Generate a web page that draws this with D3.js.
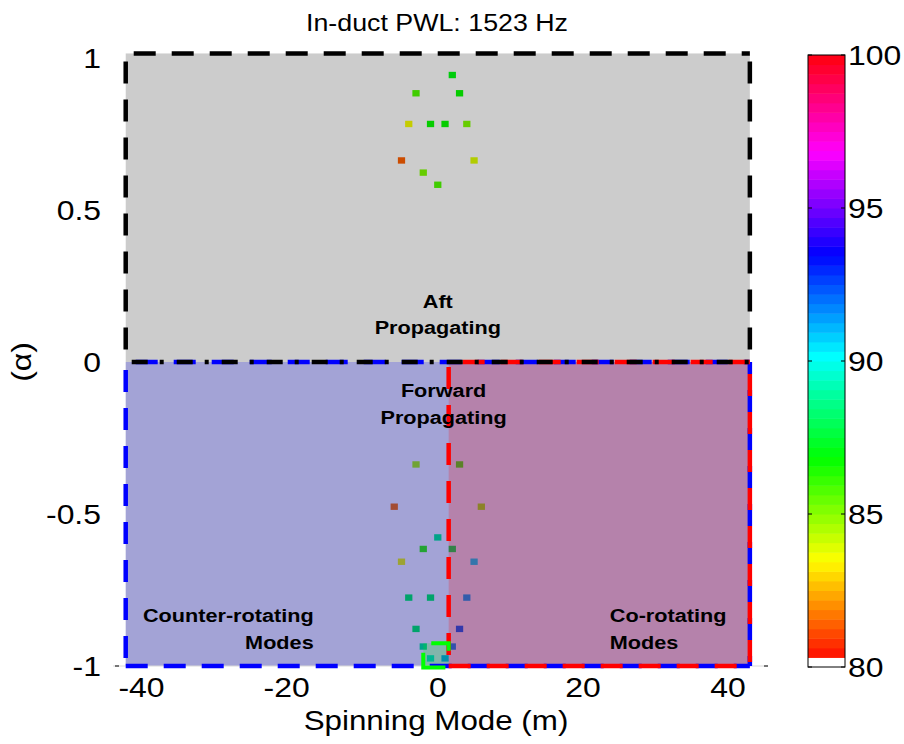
<!DOCTYPE html>
<html><head><meta charset="utf-8">
<script src="https://cdn.jsdelivr.net/npm/d3@7"></script>
<style>body{margin:0;background:#fff} svg{display:block} text{font-family:"Liberation Sans",Arial,Helvetica,sans-serif}</style>
</head><body><svg id="c" width="904" height="744"></svg>
<script>
// ---------- data ----------
const titleText = "In-duct PWL: 1523 Hz";
const xLabel = "Spinning Mode (m)";
const yLabel = "(\u03b1)";
const xTicks = [-40, -20, 0, 20, 40];
const yTicks = [-1, -0.5, 0, 0.5, 1];
const cTicks = [80, 85, 90, 95, 100];
// mode cells: spinning mode m, cut-on ratio alpha, level (dB)
const modeM  = [2, -3, 3, -4, -1, 1, 4, -5, 5, -2, 0,
                -3, 3, -6, 6, 0, -2, 2, -5, 5, -4, -1, 4, -3, 3, -2, 2, -1, 1];
const alphaV = [0.944, 0.884, 0.884, 0.783, 0.783, 0.783, 0.783, 0.663, 0.663, 0.623, 0.583,
                -0.337, -0.337, -0.476, -0.476, -0.577, -0.615, -0.615, -0.657, -0.657,
                -0.775, -0.775, -0.775, -0.878, -0.878, -0.936, -0.936, -0.975, -0.975];
const levelV = [86.9, 85.8, 86.8, 83.6, 86.7, 86.7, 85.0, 81.3, 83.8, 85.3, 85.8,
                84.4, 85.9, 81.6, 84.4, 88.5, 86.0, 87.7, 83.7, 90.5,
                87.9, 87.9, 91.2, 88.0, 92.1, 88.7, 91.5, 89.5, 91.0];
// region annotations
const regionNames = ["Aft|Propagating", "Forward|Propagating", "Counter-rotating|Modes", "Co-rotating|Modes"];

// ---------- layout ----------
const SX = 1.14; // horizontal stretch of the reference font
const svg = d3.select("#c");
const x = d3.scaleLinear().domain([-44.2, 45.5]).range([117, 768]);
const y = d3.scaleLinear().domain([-1, 1]).range([666, 58]);
const cb = d3.scaleLinear().domain([80, 100]).range([667, 55]);
const nCol = 64;
function colorOf(v) {
  let i = Math.floor((v - 80) / 20 * nCol);
  i = Math.max(0, Math.min(nCol - 1, i));
  if (i === 0) return "#ffffff";
  return d3.hsl(i / nCol * 360, 1, 0.5).formatHex();
}
function txt(g, px, py, s, size, anchor, extra) {
  return g.append("text")
    .attr("transform", `translate(${px},${py})${extra || ""} scale(${SX},1)`)
    .attr("text-anchor", anchor).attr("font-size", size).text(s);
}
const cellH = 0.021;

// mode cells
const cells = modeM.map((m, i) => ({m, a: alphaV[i], v: levelV[i]}));
svg.append("g").selectAll("rect").data(cells).join("rect")
  .attr("x", d => x(d.m - 0.5))
  .attr("width", d => x(d.m + 0.5) - x(d.m - 0.5))
  .attr("y", d => y(d.a + cellH / 2))
  .attr("height", d => y(d.a - cellH / 2) - y(d.a + cellH / 2))
  .attr("fill", d => colorOf(d.v));

// translucent region patches
const patches = [
  {x0: -43, x1: 43, y0: -1, y1: 1.015, c: "#000000"},
  {x0: -43, x1: 43, y0: -1, y1: 0, c: "#0000ff"},
  {x0: 1.5, x1: 43, y0: -1, y1: 0, c: "#ff0000"},
  {x0: -2, x1: 1.5, y0: -1.005, y1: -0.925, c: "#00ff00"}
];
svg.append("g").selectAll("rect").data(patches).join("rect")
  .attr("x", d => x(d.x0)).attr("width", d => x(d.x1) - x(d.x0))
  .attr("y", d => y(d.y1)).attr("height", d => y(d.y0) - y(d.y1))
  .attr("fill", d => d.c).attr("fill-opacity", 0.2);

// bottom axis line and end ticks
svg.append("line").attr("x1", x.range()[0] - 4).attr("x2", x.range()[1])
  .attr("y1", y(-1)).attr("y2", y(-1)).attr("stroke", "#d8d8d8").attr("stroke-width", 1);
svg.append("g").selectAll("line").data(x.range()).join("line")
  .attr("x1", (d, i) => i ? d - 4 : d - 2).attr("x2", (d, i) => i ? d : d + 2)
  .attr("y1", y(-1)).attr("y2", y(-1)).attr("stroke", "#000").attr("stroke-width", 1);

// dashed borders
const edges = [
  {x0: -43, y0: 0, x1: -43, y1: -1, c: "#0000ff", dash: "22,16", off: 30},
  {x0: -43, y0: -1, x1: 43, y1: -1, c: "#0000ff", dash: "22,16", off: 0},
  {x0: -43, y0: 0, x1: 43, y1: 0, c: "#0000ff", dash: "22,16", off: 28},
  {x0: 43, y0: 0, x1: 43, y1: -1, c: "#0000ff", dash: "22,16", off: 10},
  {x0: 1.5, y0: 0, x1: 1.5, y1: -1, c: "#ff0000", dash: "22,16", off: 33},
  {x0: 1.5, y0: -1, x1: 43, y1: -1, c: "#ff0000", dash: "22,16", off: 0},
  {x0: 1.5, y0: 0, x1: 43, y1: 0, c: "#ff0000", dash: "22,16", off: 24},
  {x0: 43, y0: 0, x1: 43, y1: -1, c: "#ff0000", dash: "22,16", off: 26},
  {x0: -43, y0: 1.015, x1: 43, y1: 1.015, c: "#000000", dash: "22,16", off: 30},
  {x0: -43, y0: 1.015, x1: -43, y1: 0, c: "#000000", dash: "22,16", off: 30},
  {x0: 43, y0: 1.015, x1: 43, y1: 0, c: "#000000", dash: "22,16", off: 30},
  {x0: -43, y0: 0, x1: 43, y1: 0, c: "#000000", dash: "16,12,4,13", off: 39}
];
svg.append("g").selectAll("line").data(edges).join("line")
  .attr("x1", d => x(d.x0)).attr("y1", d => y(d.y0))
  .attr("x2", d => x(d.x1)).attr("y2", d => y(d.y1))
  .attr("stroke", d => d.c).attr("stroke-width", 4.5)
  .attr("stroke-dasharray", d => d.dash).attr("stroke-dashoffset", d => d.off);
const gp = patches[3];
svg.append("rect").attr("x", x(gp.x0)).attr("y", y(gp.y1))
  .attr("width", x(gp.x1) - x(gp.x0)).attr("height", y(gp.y0) - y(gp.y1))
  .attr("fill", "none").attr("stroke", "#00ff00").attr("stroke-width", 4)
  .attr("stroke-dasharray", "0,8,25,20,37,12");

// region annotations
const annPos = [
  {x: 0, y: 0.179, anchor: "middle"},
  {x: 0.8, y: -0.116, anchor: "middle"},
  {x: -17.1, y: -0.855, anchor: "end"},
  {x: 23.7, y: -0.855, anchor: "start"}
];
const ann = svg.append("g").attr("font-weight", "bold");
regionNames.forEach((s, i) => {
  s.split("|").forEach((line, k) => {
    txt(ann, x(annPos[i].x), y(annPos[i].y) + k * 26.7, line, 19, annPos[i].anchor);
  });
});

// tick labels
const tl = svg.append("g");
xTicks.forEach(d => txt(tl, x(d) - (d < 0 ? 6 : 0), 697, d, 28, "middle"));
yTicks.forEach(d => txt(tl, 101, y(d) + 10, d, 28, "end"));

// titles
txt(svg, 437, 31, titleText, 23.5, "middle");
txt(svg, 436, 730, xLabel, 27.5, "middle");
txt(svg, 31, y(0), yLabel, 28, "middle", " rotate(-90)");

// colorbar
const cbX = 808, cbW = 37;
const bins = d3.range(nCol);
svg.append("g").selectAll("rect").data(bins).join("rect")
  .attr("x", cbX).attr("width", cbW)
  .attr("y", i => cb(80 + (i + 1) * 20 / nCol))
  .attr("height", i => cb(80 + i * 20 / nCol) - cb(80 + (i + 1) * 20 / nCol) + 0.5)
  .attr("fill", i => colorOf(80 + (i + 0.5) * 20 / nCol));
svg.append("rect").attr("x", cbX).attr("y", cb(100)).attr("width", cbW)
  .attr("height", cb(80) - cb(100)).attr("fill", "none").attr("stroke", "#000").attr("stroke-width", 1);
const ct = svg.append("g");
ct.selectAll("line.l").data(cTicks).join("line").attr("class", "l")
  .attr("x1", cbX).attr("x2", cbX + 4).attr("y1", d => cb(d)).attr("y2", d => cb(d)).attr("stroke", "#000");
ct.selectAll("line.r").data(cTicks).join("line").attr("class", "r")
  .attr("x1", cbX + cbW - 4).attr("x2", cbX + cbW).attr("y1", d => cb(d)).attr("y2", d => cb(d)).attr("stroke", "#000");
cTicks.forEach(d => txt(ct, cbX + cbW + 3, cb(d) + 10, d, 28, "start"));
</script></body></html>
